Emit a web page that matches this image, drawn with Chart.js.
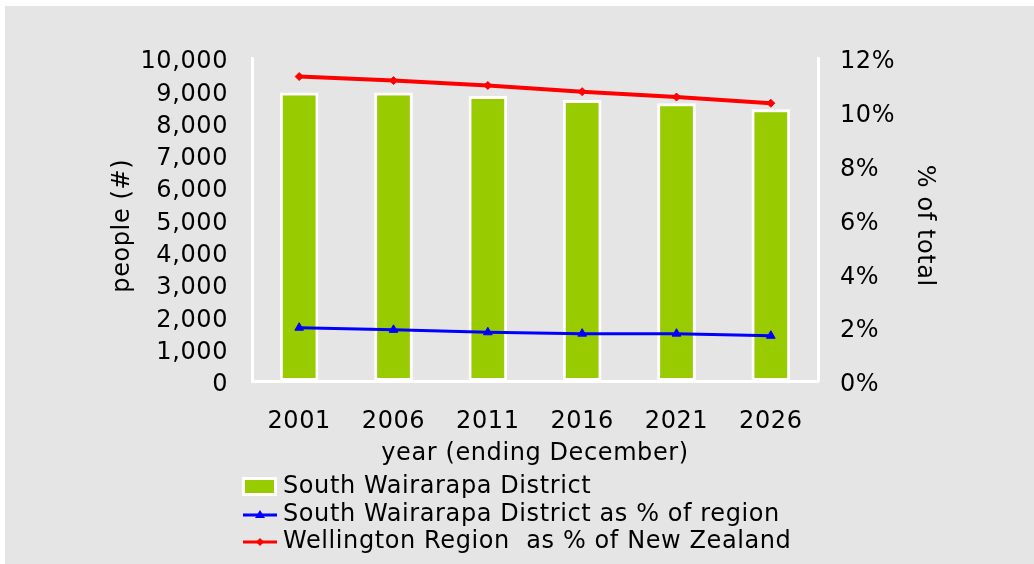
<!DOCTYPE html>
<html>
<head>
<meta charset="utf-8">
<script src="https://cdn.jsdelivr.net/npm/chart.js@4/dist/chart.umd.min.js"></script>
<style>
  body { margin: 0; background: #fff; }
  #bg { position: absolute; left: 5px; top: 6px; width: 1029px; height: 558px; background: #e5e5e5; }
  #timeChart { position: absolute; left: 0; top: 0; }
</style>
</head>
<body>
<div id="bg"></div>
<canvas id="timeChart" width="1034" height="564"></canvas>
<script>
var years = ["2001", "2006", "2011", "2016", "2021", "2026"];
var population = [8930, 8935, 8825, 8700, 8600, 8410];
var shareOfRegion = [1.98, 1.90, 1.81, 1.76, 1.76, 1.68];
var regionShareOfNZ = [11.31, 11.16, 10.98, 10.75, 10.55, 10.32];

var populationLabel = "South Wairarapa District";
var shareLabel = "South Wairarapa District as % of region";
var regionLabel = "Wellington Region  as % of New Zealand";

Chart.defaults.font.family = "'DejaVu Sans', Verdana, sans-serif";
Chart.defaults.font.size = 24;
Chart.defaults.color = "#000";

//the original font runs a little wider than DejaVu
var spacing = {
    id: "spacing",
    beforeDraw: function(chart){ chart.ctx.letterSpacing = "0.6px"; },
    afterDraw: function(chart){ chart.ctx.letterSpacing = "0px"; }
};

//legend drawn by hand so each entry gets its own row
var rowLegend = {
    id: "rowLegend",
    afterDraw: function(chart){
        var ctx = chart.ctx;
        var rows = [487, 515, 542];
        var sets = chart.data.datasets;
        // bars first, then the blue line, then the red one
        var order = [2, 1, 0];
        ctx.save();
        ctx.letterSpacing = "0.6px";
        ctx.font = "24px 'DejaVu Sans', Verdana, sans-serif";
        ctx.textBaseline = "middle";
        order.forEach(function(idx, i){
            var ds = sets[idx];
            var y = rows[i];
            if (ds.type === "bar") {
                ctx.fillStyle = "#fff";
                ctx.fillRect(242, y - 10, 35, 19);
                ctx.fillStyle = ds.backgroundColor;
                ctx.fillRect(245, y - 7, 29, 13);
            } else {
                ctx.strokeStyle = ds.borderColor;
                ctx.lineWidth = 3;
                ctx.beginPath();
                ctx.moveTo(243, y);
                ctx.lineTo(277, y);
                ctx.stroke();
                ctx.fillStyle = ds.borderColor;
                ctx.beginPath();
                if (ds.pointStyle === "triangle") {
                    ctx.moveTo(260, y - 5);
                    ctx.lineTo(265, y + 3);
                    ctx.lineTo(255, y + 3);
                } else {
                    ctx.moveTo(260, y - 4);
                    ctx.lineTo(264, y);
                    ctx.lineTo(260, y + 4);
                    ctx.lineTo(256, y);
                }
                ctx.closePath();
                ctx.fill();
            }
            ctx.fillStyle = "#000";
            ctx.fillText(ds.label, 283, y);
        });
        ctx.restore();
    }
};

var ctx = document.getElementById("timeChart");
var myChart = new Chart(ctx, {
    data: {
        labels: years,
        datasets: [{
            type: "line",
            label: regionLabel,
            data: regionShareOfNZ,
            yAxisID: "y1",
            borderColor: "#ff0000",
            backgroundColor: "#ff0000",
            borderWidth: 4,
            pointStyle: "rectRot",
            pointRadius: 4,
            pointBorderWidth: 1
        }, {
            type: "line",
            label: shareLabel,
            data: shareOfRegion,
            yAxisID: "y1",
            borderColor: "#0000ff",
            backgroundColor: "#0000ff",
            borderWidth: 3,
            pointStyle: "triangle",
            pointRadius: 5,
            pointBorderWidth: 1
        }, {
            type: "bar",
            label: populationLabel,
            data: population,
            yAxisID: "y",
            backgroundColor: "#99cc00",
            borderColor: "#ffffff",
            borderWidth: 3,
            borderSkipped: false,
            barPercentage: 0.41,
            categoryPercentage: 1
        }]
    },
    options: {
        responsive: false,
        animation: false,
        layout: { padding: { top: 58, left: 0, right: 0, bottom: 94 } },
        plugins: {
            legend: { display: false },
            tooltip: { enabled: false }
        },
        scales: {
            x: {
                grid: { display: false, drawTicks: false },
                border: { color: "#fff", width: 3 },
                ticks: { padding: 26 },
                title: { display: true, text: "year (ending December)", padding: { top: 0, bottom: 2 } },
                afterFit: function(scale){ scale.height = 89; }
            },
            y: {
                position: "left",
                min: 0,
                max: 10000,
                grid: { display: false, drawTicks: false },
                border: { color: "#fff", width: 3 },
                ticks: {
                    stepSize: 1000,
                    padding: 24,
                    labelOffset: 4,
                    callback: function(v){ return v.toLocaleString("en-US"); }
                },
                // en space at the end nudges the rotated title a bit lower
                title: { display: true, text: "people (#)\u2002", padding: { top: 108, bottom: 0 } },
                afterFit: function(scale){ scale.width = 252; }
            },
            y1: {
                position: "right",
                min: 0,
                max: 12,
                grid: { display: false, drawTicks: false },
                border: { color: "#fff", width: 3 },
                ticks: {
                    stepSize: 2,
                    padding: 22,
                    labelOffset: 4,
                    callback: function(v){ return v + "%"; }
                },
                title: { display: true, text: "\u2002% of total", padding: { top: 95, bottom: 0 } },
                afterFit: function(scale){ scale.width = 216; }
            }
        }
    },
    plugins: [spacing, rowLegend]
});
</script>
</body>
</html>
